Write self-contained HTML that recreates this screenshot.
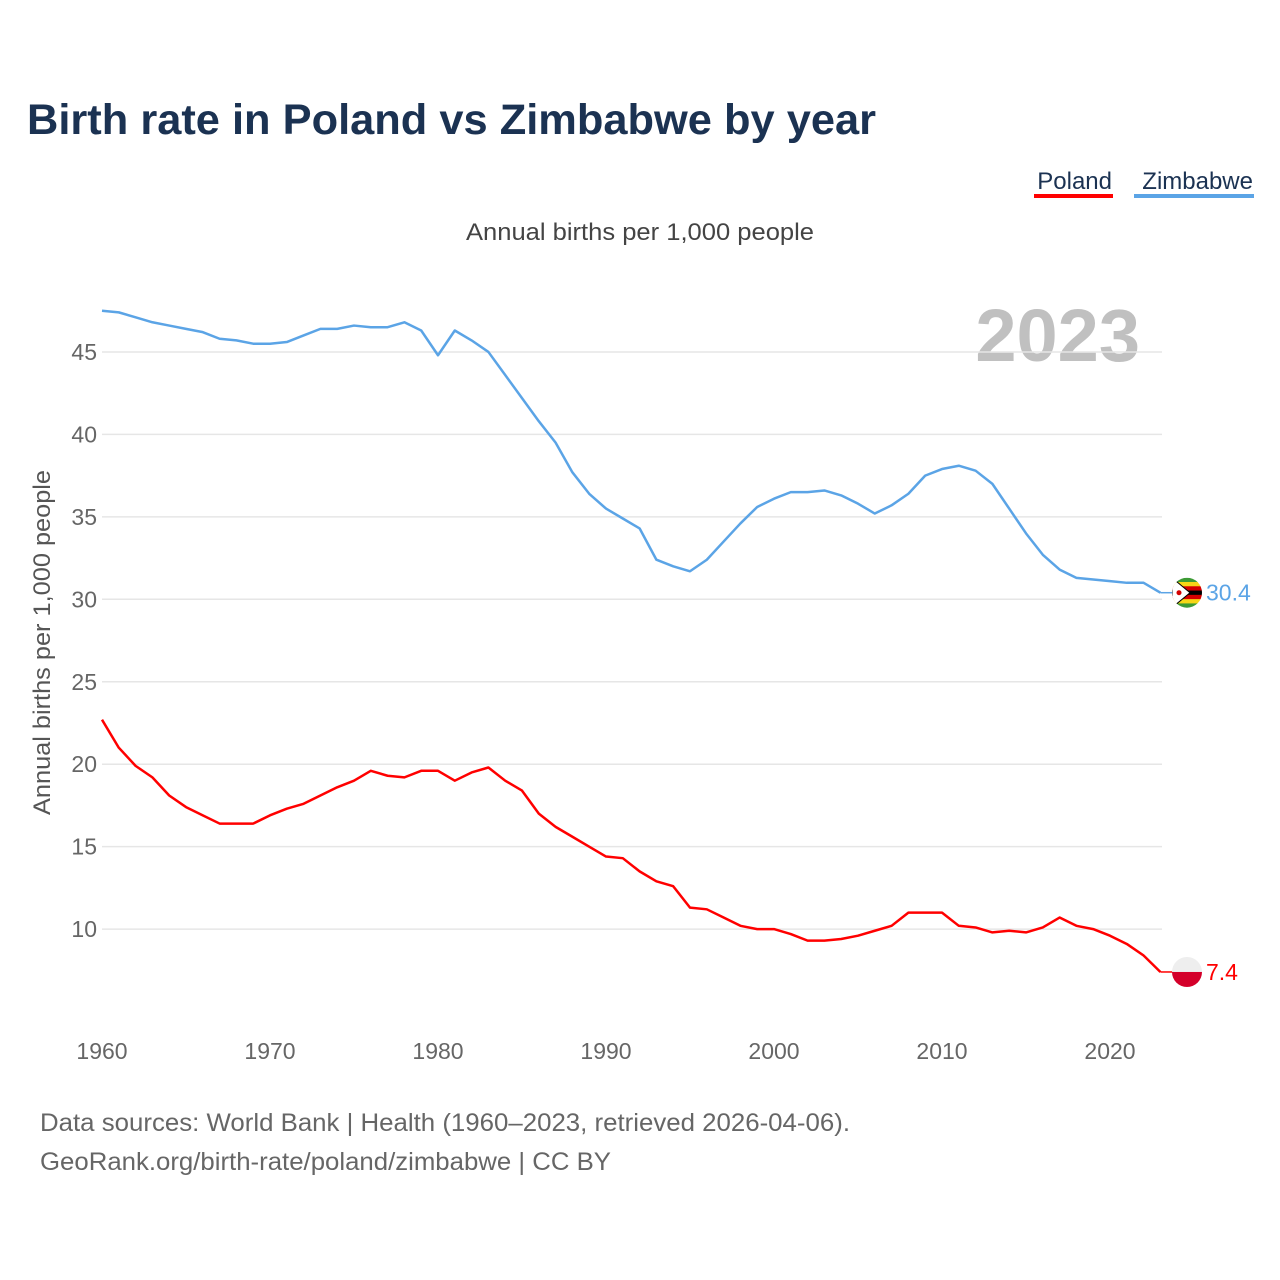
<!DOCTYPE html>
<html><head><meta charset="utf-8"><style>
body{margin:0;background:#fff;font-family:"Liberation Sans",sans-serif;}
svg{display:block}
</style></head><body>
<svg id="chart" width="1280" height="1280" xmlns="http://www.w3.org/2000/svg">
<text x="27" y="134" font-size="43" font-weight="bold" fill="#1b3252" textLength="849" lengthAdjust="spacingAndGlyphs">Birth rate in Poland vs Zimbabwe by year</text>
<g>
<text x="1112" y="189" font-size="24" fill="#1b3252" text-anchor="end">Poland</text>
<rect x="1034" y="194" width="79" height="4" fill="#ff0000"/>
<text x="1253" y="189" font-size="24" fill="#1b3252" text-anchor="end">Zimbabwe</text>
<rect x="1134" y="194" width="120" height="4" fill="#5ba4e6"/>
</g>
<text x="466" y="240" font-size="24" fill="#444" textLength="348" lengthAdjust="spacingAndGlyphs">Annual births per 1,000 people</text>
<text x="1140" y="361" font-size="74" font-weight="bold" fill="#c0c0c0" text-anchor="end">2023</text>
<text transform="translate(50,815) rotate(-90)" font-size="24" fill="#555" textLength="345" lengthAdjust="spacingAndGlyphs">Annual births per 1,000 people</text>
<g id="grid"></g><g id="xt"></g><g id="lines"></g>
<text x="40" y="1131" font-size="25" fill="#666" textLength="810" lengthAdjust="spacingAndGlyphs">Data sources: World Bank | Health (1960–2023, retrieved 2026-04-06).</text>
<text x="40" y="1170" font-size="25" fill="#666" textLength="571" lengthAdjust="spacingAndGlyphs">GeoRank.org/birth-rate/poland/zimbabwe | CC BY</text>
</svg>
<script>
const years=[];for(let y=1960;y<=2023;y++)years.push(y);
const yTicks=[10,15,20,25,30,35,40,45];
const xTicks=[1960,1970,1980,1990,2000,2010,2020];
const zimbabwe=[47.5,47.4,47.1,46.8,46.6,46.4,46.2,45.8,45.7,45.5,45.5,45.6,46.0,46.4,46.4,46.6,46.5,46.5,46.8,46.3,44.8,46.3,45.7,45.0,43.6,42.2,40.8,39.5,37.7,36.4,35.5,34.9,34.3,32.4,32.0,31.7,32.4,33.5,34.6,35.6,36.1,36.5,36.5,36.6,36.3,35.8,35.2,35.7,36.4,37.5,37.9,38.1,37.8,37.0,35.5,34.0,32.7,31.8,31.3,31.2,31.1,31.0,31.0,30.4];
const poland=[22.7,21.0,19.9,19.2,18.1,17.4,16.9,16.4,16.4,16.4,16.9,17.3,17.6,18.1,18.6,19.0,19.6,19.3,19.2,19.6,19.6,19.0,19.5,19.8,19.0,18.4,17.0,16.2,15.6,15.0,14.4,14.3,13.5,12.9,12.6,11.3,11.2,10.7,10.2,10.0,10.0,9.7,9.3,9.3,9.4,9.6,9.9,10.2,11.0,11.0,11.0,10.2,10.1,9.8,9.9,9.8,10.1,10.7,10.2,10.0,9.6,9.1,8.4,7.4];
const X=y=>102+(y-1960)*16.8;
const Y=v=>1094-v*16.49;
const NS="http://www.w3.org/2000/svg";
function mk(t,a,p){const e=document.createElementNS(NS,t);for(const k in a)e.setAttribute(k,a[k]);p.appendChild(e);return e;}
const grid=document.getElementById('grid');
yTicks.forEach(v=>{
 const l=mk('line',{x1:102,x2:1162,y1:Y(v),y2:Y(v),stroke:'#e6e6e6','stroke-width':1.5},grid);
 
 
 const t=mk('text',{x:97,y:Y(v)+8,'font-size':23,fill:'#666','text-anchor':'end'},grid);t.textContent=v;
 
 
});
const xt=document.getElementById('xt');
xTicks.forEach(v=>{
 const t=mk('text',{x:X(v),y:1059,'font-size':23,fill:'#666','text-anchor':'middle'},xt);t.textContent=v;
 
 
});
const lines=document.getElementById('lines');
function series(vals,color,name){
 const d=vals.map((v,i)=>(i?'L':'M')+X(years[i])+' '+Y(v)).join(' ');
 const p=mk('path',{d:d,fill:'none',stroke:color,'stroke-width':2.5,'stroke-linejoin':'round'},lines);
 
 
 const last=vals[vals.length-1],ly=Y(last);
 mk('line',{x1:X(2023),x2:1174,y1:ly,y2:ly,stroke:color,'stroke-width':1.5},lines);
 return ly;
}
const zy=series(zimbabwe,'#5ba4e6','zimbabwe');
const py=series(poland,'#ff0000','poland');
const zf=mk('g',{},lines);


const cols=['#3d9b35','#f7d616','#d40000','#000','#d40000','#f7d616','#3d9b35'];
mk('clipPath',{id:'zc'},zf);mk('circle',{cx:1187,cy:zy,r:15},zf.lastChild);
const zg=mk('g',{'clip-path':'url(#zc)'},zf);
cols.forEach((c,i)=>mk('rect',{x:1172,y:zy-15+i*30/7,width:30,height:30/7+0.5,fill:c},zg));
mk('path',{d:`M1172 ${zy-15} L1190 ${zy} L1172 ${zy+15} Z`,fill:'#fff',stroke:'#000','stroke-width':1},zg);
mk('circle',{cx:1179,cy:zy,r:2.5,fill:'#d40000'},zg);
const zt=mk('text',{x:1206,y:zy+8,'font-size':23,fill:'#5ba4e6'},lines);zt.textContent='30.4';


const pf=mk('g',{},lines);


mk('clipPath',{id:'pc'},pf);mk('circle',{cx:1187,cy:py,r:15},pf.lastChild);
const pg=mk('g',{'clip-path':'url(#pc)'},pf);
mk('rect',{x:1172,y:py-15,width:30,height:15,fill:'#eeeeee'},pg);
mk('rect',{x:1172,y:py,width:30,height:15,fill:'#d4002a'},pg);
const pt=mk('text',{x:1206,y:py+8,'font-size':23,fill:'#ff0000'},lines);pt.textContent='7.4';


</script>
</body></html>
